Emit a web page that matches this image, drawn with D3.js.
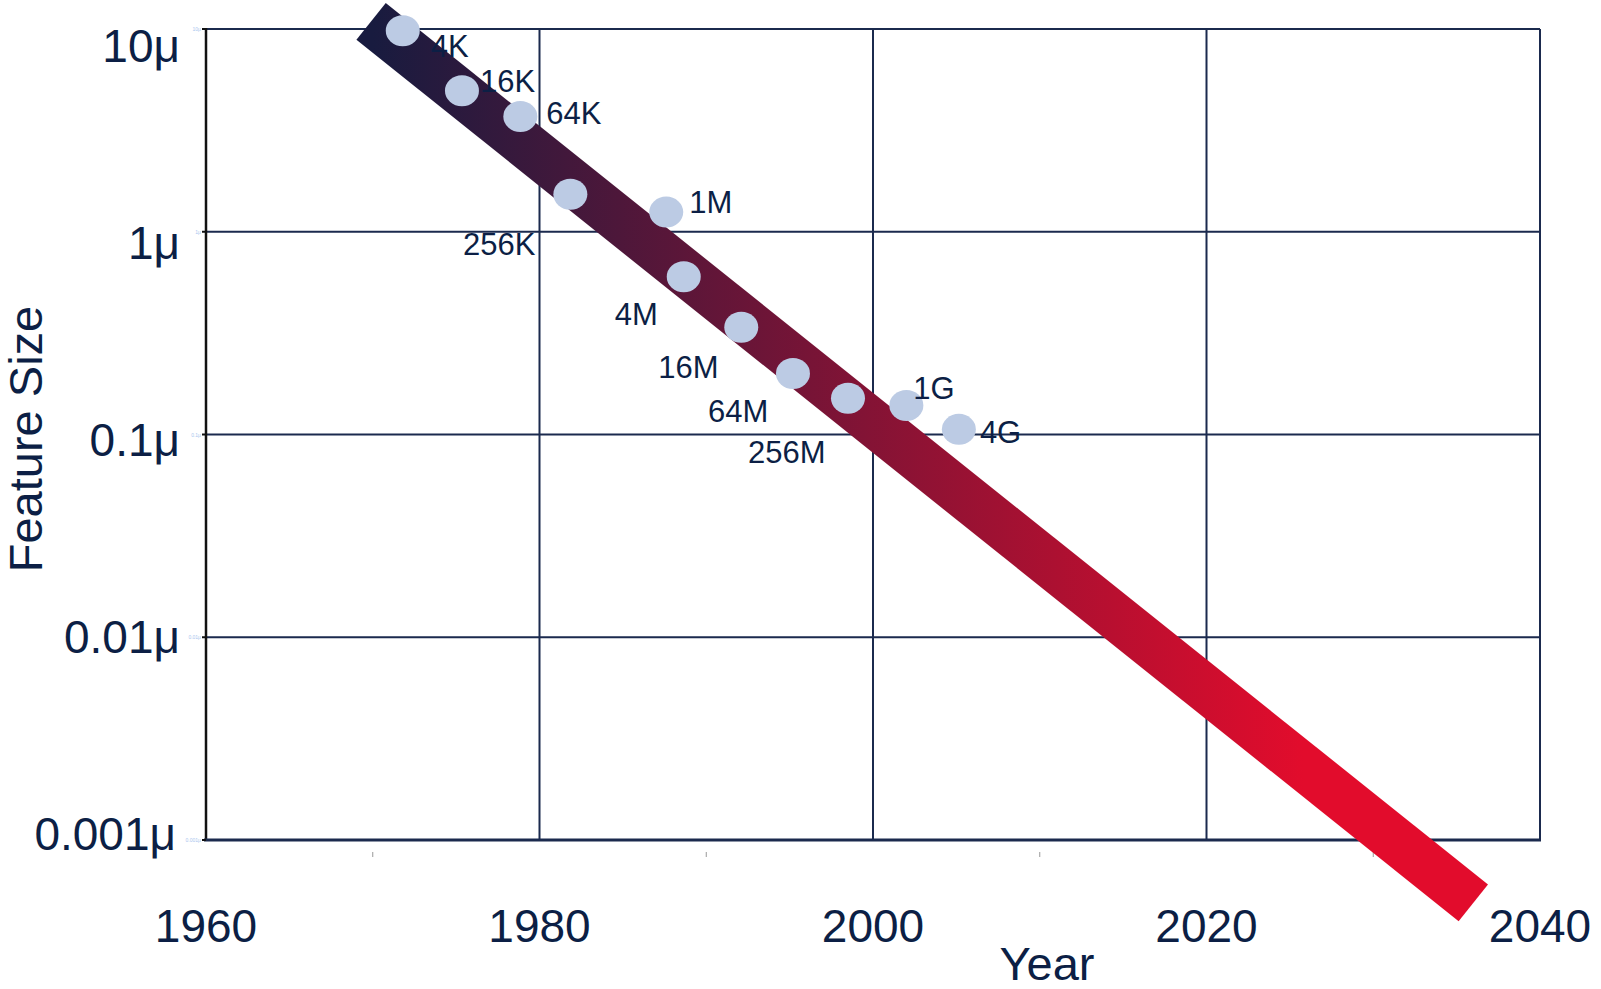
<!DOCTYPE html>
<html>
  <head>
    <meta charset="utf-8">
    <script src="https://d3js.org/d3.v7.min.js"></script>
    <title>Feature Size vs Year</title>
    <style>
      body { margin: 0px; background: #fff; }
      text { font-family: "Liberation Sans", Arial, sans-serif; fill: #0c1f45; }
      .grid line { stroke: #1b2a4e; stroke-width: 2; }
      .tick-label { font-size: 46px; }
      .axis-label { font-size: 47px; }
      .point-label { font-size: 31px; }
    </style>
  </head>
  <body>
    <svg width="1601" height="989"></svg>
    <script>
      // chart values
      const chips = ['4K', '16K', '64K', '256K', '1M', '4M', '16M', '64M', '256M', '1G', '4G'];
      const chipYears = [1971.8, 1975.35, 1978.85, 1981.85, 1987.6, 1988.65, 1992.1, 1995.2, 1998.5, 2002.0, 2005.15];
      const chipSizes = [9.8, 4.96, 3.7, 1.53, 1.25, 0.6, 0.338, 0.2, 0.151, 0.139, 0.106];
      const trendYears = [1969.9, 2036.0];
      const trendSizes = [10.9, 0.00049];
      const xTicks = [1960, 1980, 2000, 2020, 2040];
      const xMinorTicks = [1970, 1990, 2010, 2030];
      const yTicks = [10, 1, 0.1, 0.01, 0.001];
      const yTickLabels = ['10\u03bc', '1\u03bc', '0.1\u03bc', '0.01\u03bc', '0.001\u03bc'];

      // label placement relative to each dot (layout only)
      const labelOffsets = [
        [28, 26, 'start'], [18, 1, 'start'], [26, 7, 'start'], [-35, 61, 'end'],
        [23, 1, 'start'], [-69, 48, 'start'], [-83, 51, 'start'], [-85, 49, 'start'],
        [-100, 65, 'start'], [7, -7, 'start'], [21, 14, 'start']
      ];

      const svg = d3.select('svg');
      const plotLeft = 206, plotRight = 1540, plotTop = 29, plotBottom = 840;

      const xScale = d3.scaleLinear().domain([1960, 2040]).range([plotLeft, plotRight]);
      const yScale = d3.scaleLog().domain([10, 0.001]).range([plotTop, plotBottom]);
      // tick labels sit a little off the gridlines in the original
      const yLabelScale = d3.scaleLog().domain([10, 0.001]).range([62, 850]);

      const defs = svg.append('defs');
      const grad = defs.append('linearGradient')
          .attr('id', 'bandGrad')
          .attr('gradientUnits', 'userSpaceOnUse')
          .attr('x1', xScale(1970)).attr('y1', 0)
          .attr('x2', xScale(2025.8)).attr('y2', 0);
      grad.append('stop').attr('offset', '0%').attr('stop-color', '#181b3f');
      grad.append('stop').attr('offset', '100%').attr('stop-color', '#e20c2c');

      // grid
      const grid = svg.append('g').attr('class', 'grid');
      grid.selectAll('.h').data(yTicks).enter().append('line')
          .attr('x1', plotLeft).attr('x2', plotRight)
          .attr('y1', d => yScale(d)).attr('y2', d => yScale(d));
      grid.selectAll('.v').data(xTicks.slice(1)).enter().append('line')
          .attr('x1', d => xScale(d)).attr('x2', d => xScale(d))
          .attr('y1', plotTop).attr('y2', plotBottom);

      // axes lines
      svg.append('line')
          .attr('x1', plotLeft).attr('x2', plotLeft).attr('y1', plotTop - 1).attr('y2', plotBottom + 1)
          .attr('stroke', '#111').attr('stroke-width', 2.5);
      svg.append('line')
          .attr('x1', plotLeft - 2).attr('x2', plotRight + 1).attr('y1', plotBottom).attr('y2', plotBottom)
          .attr('stroke', '#1b2a4e').attr('stroke-width', 3);
      svg.selectAll('.ytickmark').data(yTicks).enter().append('line')
          .attr('x1', plotLeft - 4).attr('x2', plotLeft)
          .attr('y1', d => yScale(d)).attr('y2', d => yScale(d))
          .attr('stroke', '#111').attr('stroke-width', 2);
      svg.selectAll('.minor').data(xMinorTicks).enter().append('line')
          .attr('x1', d => xScale(d)).attr('x2', d => xScale(d))
          .attr('y1', 852).attr('y2', 857)
          .attr('stroke', '#999').attr('stroke-width', 1);

      // tiny ghost labels next to the axis
      svg.selectAll('.ghost').data(yTicks).enter().append('text')
          .attr('x', plotLeft - 5).attr('y', d => yScale(d) + 2)
          .attr('text-anchor', 'end')
          .style('font-size', '5px').style('fill', '#a9c6ee')
          .text((d, i) => yTickLabels[i]);

      // tick labels
      svg.selectAll('.ylab').data(yTicks).enter().append('text')
          .attr('class', 'tick-label')
          .attr('x', (d, i) => i === 4 ? 176 : 180).attr('y', d => yLabelScale(d))
          .attr('text-anchor', 'end')
          .text((d, i) => yTickLabels[i]);
      svg.selectAll('.xlab').data(xTicks).enter().append('text')
          .attr('class', 'tick-label')
          .attr('x', d => xScale(d)).attr('y', 942)
          .attr('text-anchor', 'middle')
          .text(d => d);

      svg.append('text')
          .attr('class', 'axis-label')
          .attr('x', 1047).attr('y', 980)
          .attr('text-anchor', 'middle')
          .text('Year');
      svg.append('text')
          .attr('class', 'axis-label')
          .attr('transform', 'translate(42,439) rotate(-90)')
          .attr('text-anchor', 'middle')
          .text('Feature Size');

      // trend band
      const line = d3.line().x(d => xScale(d[0])).y(d => yScale(d[1]));
      svg.append('path')
          .datum(trendYears.map((y, i) => [y, trendSizes[i]]))
          .attr('d', line)
          .attr('fill', 'none')
          .attr('stroke', 'url(#bandGrad)')
          .attr('stroke-width', 47)
          .attr('stroke-linecap', 'butt');

      // chip dots
      const chipData = chips.map((c, i) => ({ name: c, year: chipYears[i], size: chipSizes[i] }));
      svg.selectAll('ellipse').data(chipData).enter().append('ellipse')
          .attr('cx', d => xScale(d.year))
          .attr('cy', d => yScale(d.size))
          .attr('rx', 17).attr('ry', 15.5)
          .attr('fill', '#bccbe4');

      svg.selectAll('.point-label').data(chipData).enter().append('text')
          .attr('class', 'point-label')
          .attr('x', (d, i) => xScale(d.year) + labelOffsets[i][0])
          .attr('y', (d, i) => yScale(d.size) + labelOffsets[i][1])
          .attr('text-anchor', (d, i) => labelOffsets[i][2])
          .text(d => d.name);
    </script>
  </body>
</html>
